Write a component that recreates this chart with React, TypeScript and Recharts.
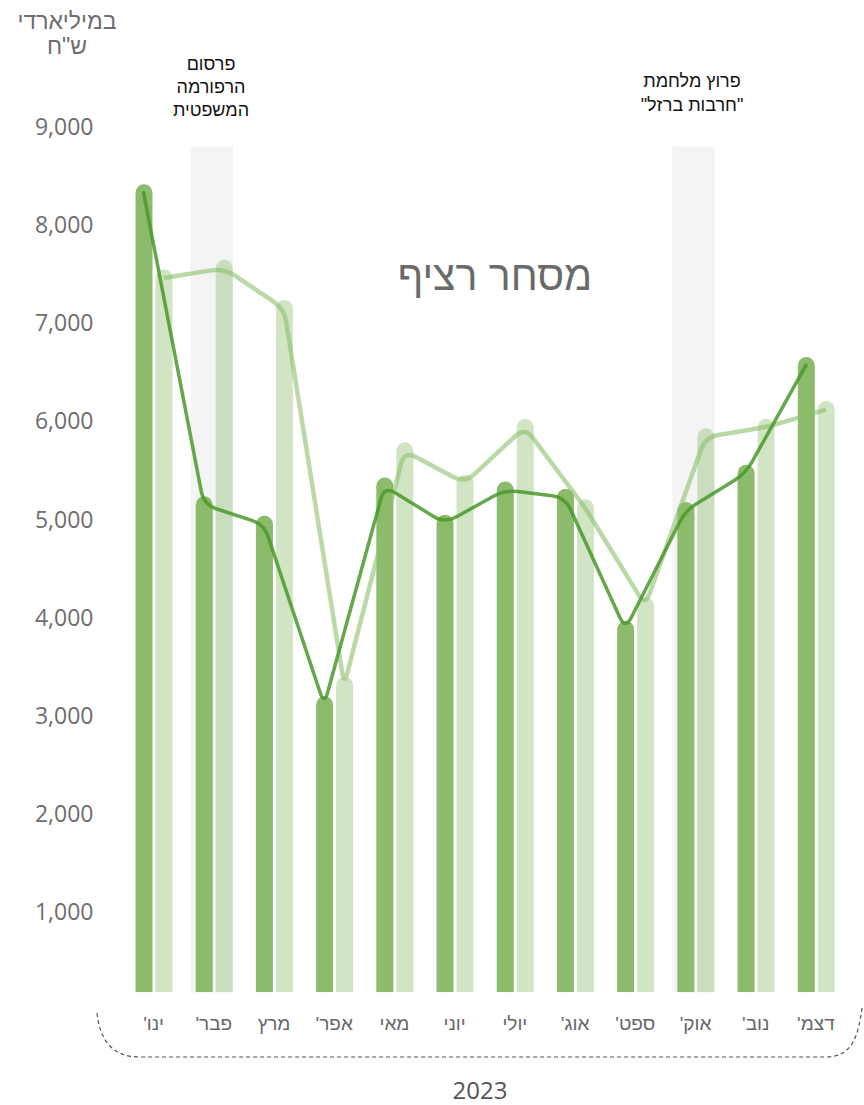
import React from "react";
import {
  Bar,
  ComposedChart,
  Line,
  ReferenceArea,
  XAxis,
  YAxis,
} from "recharts";

// חודשי 2023, מחזור מסחר רציף (במיליארדי ש"ח)
const months = ["ינו'", "פבר'", "מרץ", "אפר'", "מאי", "יוני", "יולי", "אוג'", "ספט'", "אוק'", "נוב'", "דצמ'"];
const darkValues = [8330, 5150, 4950, 3110, 5340, 4960, 5300, 5225, 3880, 5090, 5470, 6570];
const lightValues = [7460, 7560, 7150, 3310, 5700, 5370, 5940, 5120, 4120, 5840, 5940, 6120];
const yTicks = [1000, 2000, 3000, 4000, 5000, 6000, 7000, 8000, 9000];
const highlightMonths = ["פבר'", "אוק'"];
const bandTop = 8800;

const data = months.map((m, i) => ({ month: m, dark: darkValues[i], light: lightValues[i] }));

const W = 864;
const H = 1105;
const BAR = 17;
const GAP = 3;
const GREEN = "#8bbb6b";
const FONT = "'Open Sans', 'Liberation Sans', 'DejaVu Sans', sans-serif";
const HEB = "'Liberation Sans', 'DejaVu Sans', sans-serif";

// polyline with softly rounded corners (d3 curve factory interface)
function roundedCurve(radius: number) {
  return (context: any) => {
    let pts: [number, number][] = [];
    return {
      areaStart() {},
      areaEnd() {},
      lineStart() {
        pts = [];
      },
      point(x: number, y: number) {
        pts.push([+x, +y]);
      },
      lineEnd() {
        if (!pts.length) return;
        context.moveTo(pts[0][0], pts[0][1]);
        for (let i = 1; i < pts.length - 1; i++) {
          const [px, py] = pts[i - 1];
          const [cx, cy] = pts[i];
          const [nx, ny] = pts[i + 1];
          const d1 = Math.hypot(cx - px, cy - py) || 1;
          const d2 = Math.hypot(nx - cx, ny - cy) || 1;
          const r1 = Math.min(radius, d1 / 2);
          const r2 = Math.min(radius, d2 / 2);
          context.lineTo(cx - ((cx - px) / d1) * r1, cy - ((cy - py) / d1) * r1);
          context.quadraticCurveTo(cx, cy, cx + ((nx - cx) / d2) * r2, cy + ((ny - cy) / d2) * r2);
        }
        const last = pts[pts.length - 1];
        context.lineTo(last[0], last[1]);
      },
    };
  };
}

// bar with a fully round top; the value sits at the centre of the cap
function RoundBar(props: any) {
  const { x, y, width, height, fill, fillOpacity } = props;
  if (width == null || height == null) return null;
  const r = width / 2;
  const bottom = y + height;
  const top = y - r;
  const d = `M${x},${bottom} L${x},${top + r} A${r},${r} 0 0 1 ${x + width},${top + r} L${x + width},${bottom} Z`;
  return <path d={d} fill={fill} fillOpacity={fillOpacity} />;
}

function Band(props: any) {
  const { x, y, width, height } = props;
  const inset = 9;
  return <rect x={x + inset - 2} y={y} width={width - inset * 2} height={height} fill="#f4f4f4" />;
}

function MonthTick(props: any) {
  const { x, y, payload } = props;
  return (
    <text x={x} y={y} dy="0.71em" textAnchor="middle" direction="rtl" fill="#666" fontSize={19} fontFamily={HEB}>
      {payload.value}
    </text>
  );
}

export default function App() {
  const shift = (BAR + GAP) / 2;
  return (
    <div style={{ position: "absolute", left: 0, top: 0, width: W, height: H, background: "#fff" }}>
      <style>{`
        .line-dark { transform: translateX(-${shift}px); }
        .line-light { transform: translateX(${shift}px); }
      `}</style>
      <ComposedChart
        width={W}
        height={H}
        data={data}
        margin={{ top: 127, right: 18, bottom: 82.7, left: 0 }}
        barSize={BAR}
        barGap={GAP}
      >
        <XAxis
          dataKey="month"
          height={30}
          axisLine={false}
          tickLine={false}
          tickMargin={18}
          interval={0}
          tick={<MonthTick />}
        />
        <YAxis
          width={123.5}
          domain={[180, 9000]}
          ticks={yTicks}
          allowDataOverflow
          axisLine={false}
          tickLine={false}
          tickMargin={24}
          tickFormatter={(v: number) => v.toLocaleString("en-US")}
          tick={{ fill: "#6d6d6d", fontSize: 23, fontFamily: FONT }}
        />
        {highlightMonths.map((m) => (
          <ReferenceArea key={m} x1={m} x2={m} y1={180} y2={bandTop} shape={Band} ifOverflow="hidden" />
        ))}
        <Bar dataKey="dark" fill={GREEN} shape={RoundBar} isAnimationActive={false} />
        <Bar dataKey="light" fill={GREEN} fillOpacity={0.4} shape={RoundBar} isAnimationActive={false} />
        <Line
          className="line-light"
          type={roundedCurve(13) as any}
          dataKey="light"
          stroke="#8cc06c"
          strokeOpacity={0.6}
          strokeWidth={4.5}
          dot={false}
          activeDot={false}
          isAnimationActive={false}
        />
        <Line
          className="line-dark"
          type={roundedCurve(13) as any}
          dataKey="dark"
          stroke="#4a982a"
          strokeOpacity={0.85}
          strokeWidth={3.5}
          dot={false}
          activeDot={false}
          strokeLinecap="round"
          isAnimationActive={false}
        />
      </ComposedChart>
      <svg
        width={W}
        height={H}
        style={{ position: "absolute", left: 0, top: 0, pointerEvents: "none" }}
      >
        <g fontFamily={HEB} textAnchor="middle">
          <text x={67} y={29} fontSize={23} fill="#6e6e6e">במיליארדי</text>
          <text x={67} y={54} fontSize={23} fill="#6e6e6e">ש"ח</text>
          <text x={211} y={70} fontSize={18} fill="#111">פרסום</text>
          <text x={211} y={93} fontSize={18} fill="#111">הרפורמה</text>
          <text x={211} y={116} fontSize={18} fill="#111">המשפטית</text>
          <text x={692} y={87} fontSize={18} fill="#111">פרוץ מלחמת</text>
          <text x={692} y={111} fontSize={18} fill="#111">"חרבות ברזל"</text>
          <text x={495} y={290} fontSize={41} fill="#6a6a6a">מסחר רציף</text>
          <text x={480} y={1099} fontSize={24} fill="#555" fontFamily={FONT}>2023</text>
        </g>
        <path
          d="M97,1013 C100,1040 112,1057 140,1057 L826,1057 C850,1057 858,1040 862,1008"
          fill="none"
          stroke="#555"
          strokeWidth={1.2}
          strokeDasharray="4 3"
        />
      </svg>
    </div>
  );
}
